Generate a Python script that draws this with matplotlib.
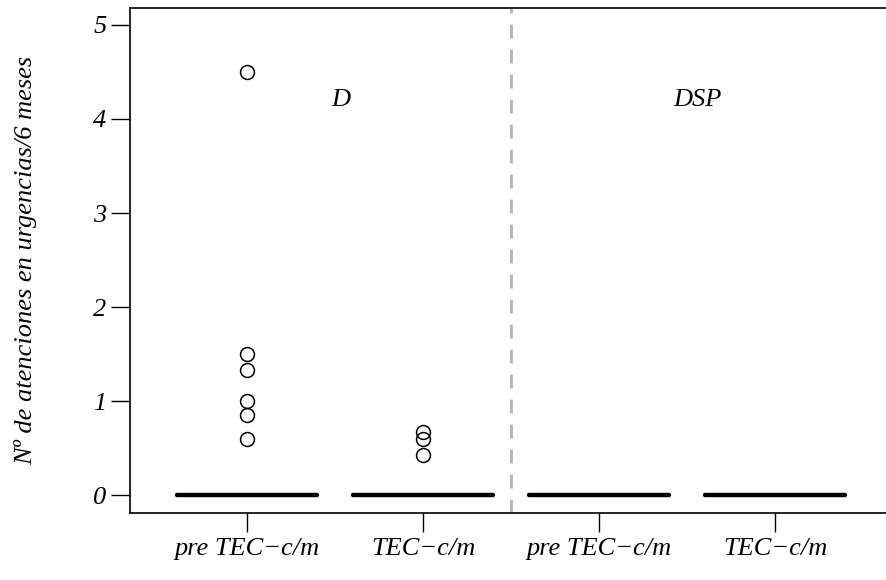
import matplotlib.pyplot as plt

# Data (all boxes collapse to 0, only outliers show)
groups = ["pre TEC\u2212c/m", "TEC\u2212c/m", "pre TEC\u2212c/m", "TEC\u2212c/m"]
medians = [0, 0, 0, 0]
q1 = [0, 0, 0, 0]
q3 = [0, 0, 0, 0]
fliers = [
    [4.5, 1.5, 1.333, 1.0, 0.857, 0.6],
    [0.667, 0.6, 0.429],
    [],
    [],
]
panels = ["D", "DSP"]

plt.rcParams["font.family"] = ["Liberation Serif", "DejaVu Serif"]

fig = plt.figure(figsize=(8.86, 5.8), dpi=100)
ax = fig.add_axes([130 / 886, 1 - 513 / 580, 762 / 886, 505 / 580])

stats = []
for i in range(len(groups)):
    stats.append({"med": medians[i], "q1": q1[i], "q3": q3[i],
                  "whislo": q1[i], "whishi": q3[i], "fliers": fliers[i]})

ax.bxp(stats, positions=[1, 2, 3, 4], widths=0.8, showcaps=False,
       boxprops=dict(linewidth=0),
       whiskerprops=dict(linewidth=0),
       medianprops=dict(color="black", linewidth=3.2, solid_capstyle="round"),
       flierprops=dict(marker="o", markersize=10, markerfacecolor="none",
                       markeredgecolor="black", markeredgewidth=1.1))

# separator between the two groups
ax.axvline(2.5, color="#b3b3b3", linewidth=2, dashes=(5, 4))

ax.text(1.53, 4.2, panels[0], fontsize=19, style="italic", ha="center", va="center")
ax.text(3.56, 4.2, panels[1], fontsize=19, style="italic", ha="center", va="center")

ax.set_xlim(0.335, 4.665)
ax.set_ylim(-0.19, 5.18)
ax.set_yticks([0, 1, 2, 3, 4, 5])
ax.set_yticklabels(["0", "1", "2", "3", "4", "5"], fontsize=19, style="italic")
ax.set_xticks([1, 2, 3, 4])
ax.set_xticklabels(groups, fontsize=19, style="italic")
ax.tick_params(axis="x", length=14, width=1, pad=4)
ax.tick_params(axis="y", length=14, width=1, pad=3)
ax.set_ylabel("N\u00ba de atenciones en urgencias/6 meses", fontsize=19,
              style="italic")
ax.yaxis.set_label_coords(-0.122, 0.5)
for s in ax.spines.values():
    s.set_linewidth(1.2)

fig.savefig("out.png", dpi=100)
